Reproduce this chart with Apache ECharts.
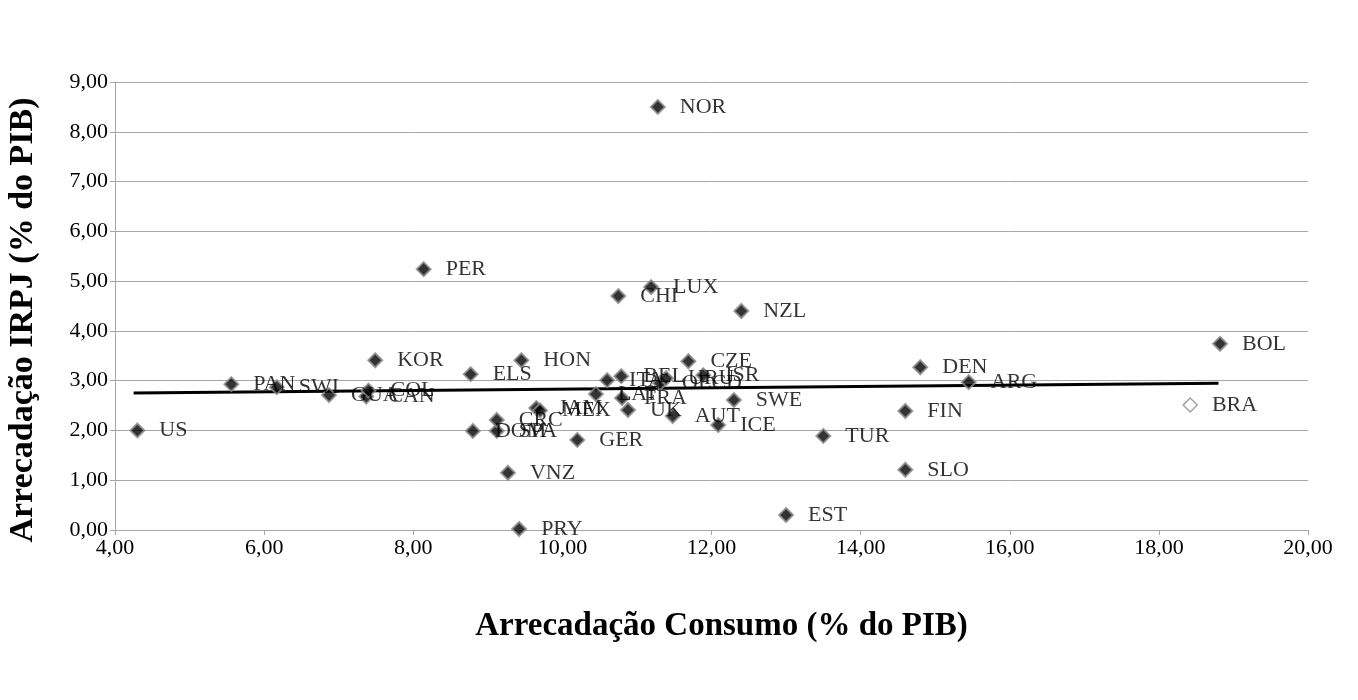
<!DOCTYPE html>
<html>
<head>
<meta charset="utf-8">
<script src="https://cdn.jsdelivr.net/npm/echarts@6/dist/echarts.min.js"></script>
<style>html,body{margin:0;padding:0;background:#fff}#c{width:1358px;height:700px}</style>
</head>
<body>
<div id="c"></div>
<script>
const countries = ['US','PAN','SWI','GUA','CAN','COL','KOR','PER','ELS','HON','DOM','SPA','CRC','JAM','MEX','VNZ','PRY','GER','LAT','ITA','BEL','FRA','UK','CHI','LUX','NOR','OECD','URU','CZE','ISR','AUT','ICE','SWE','NZL','EST','TUR','SLO','FIN','DEN','ARG','BOL'];
const consumo  = [4.30,5.56,6.17,6.87,7.37,7.40,7.49,8.14,8.77,9.45,8.80,9.12,9.12,9.65,9.70,9.27,9.42,10.20,10.45,10.60,10.79,10.80,10.88,10.75,11.19,11.28,11.31,11.39,11.69,11.89,11.48,12.09,12.30,12.40,13.00,13.50,14.60,14.60,14.80,15.45,18.82];
const irpj     = [2.00,2.93,2.87,2.71,2.68,2.80,3.41,5.24,3.13,3.41,1.99,1.99,2.21,2.45,2.40,1.15,0.02,1.81,2.73,3.01,3.09,2.65,2.41,4.70,4.88,8.50,2.95,3.05,3.39,3.11,2.29,2.11,2.61,4.40,0.30,1.89,1.21,2.39,3.27,2.97,3.74];
const brazil = {name:'BRA', x:18.42, y:2.51};
const trendX = [4.25, 18.80];
const trendY = [2.75, 2.95];
const xTicks = {min:4, max:20, step:2};
const yTicks = {min:0, max:9, step:1};

const fmt = v => v.toFixed(2).replace('.', ',');
const serif = '"Liberation Serif", "DejaVu Serif", serif';
const labelStyle = {show:true, position:'right', distance:14, formatter:'{b}', color:'#000', fontFamily:serif, fontSize:22};

const chart = echarts.init(document.getElementById('c'));
chart.setOption({
  animation:false,
  grid:{left:115, right:50, top:82, bottom:170, containLabel:false, outerBoundsMode:'none'},
  xAxis:{
    type:'value', min:xTicks.min, max:xTicks.max, interval:xTicks.step,
    name:'Arrecadação Consumo (% do PIB)', nameLocation:'middle', nameGap:80,
    nameTextStyle:{fontFamily:serif, fontSize:33, fontWeight:'bold', color:'#000', padding:[0,0,0,20]},
    axisLine:{lineStyle:{color:'#a6a6a6', width:1}},
    axisTick:{show:true, inside:false, length:5, lineStyle:{color:'#a6a6a6'}},
    axisLabel:{formatter:fmt, fontFamily:serif, fontSize:22, color:'#000', margin:7},
    splitLine:{show:false}
  },
  yAxis:{
    type:'value', min:yTicks.min, max:yTicks.max, interval:yTicks.step,
    name:'Arrecadação IRPJ (% do PIB)', nameLocation:'middle', nameGap:75,
    nameTextStyle:{fontFamily:serif, fontSize:34, fontWeight:'bold', color:'#000', padding:[0,28,0,0]},
    axisLine:{show:true, lineStyle:{color:'#a6a6a6', width:1}},
    axisTick:{show:true, inside:false, length:5, lineStyle:{color:'#a6a6a6'}},
    axisLabel:{formatter:fmt, fontFamily:serif, fontSize:22, color:'#000', margin:7},
    splitLine:{show:true, lineStyle:{color:'#a6a6a6', width:1}}
  },
  series:[
    {
      type:'line', data:trendX.map((x,i)=>[x,trendY[i]]), symbol:'none',
      lineStyle:{color:'#000', width:3}, z:3, silent:true
    },
    {
      type:'scatter', symbol:'diamond', symbolSize:14,
      itemStyle:{color:'#000', borderColor:'#8c8c8c', borderWidth:2},
      data:countries.map((c,i)=>({name:c, value:[consumo[i], irpj[i]]})),
      label:labelStyle, z:4
    },
    {
      type:'scatter', symbol:'diamond', symbolSize:14,
      itemStyle:{color:'#fff', borderColor:'#8c8c8c', borderWidth:1.5},
      data:[{name:brazil.name, value:[brazil.x, brazil.y]}],
      label:labelStyle, z:4
    }
  ]
});
</script>
</body>
</html>
